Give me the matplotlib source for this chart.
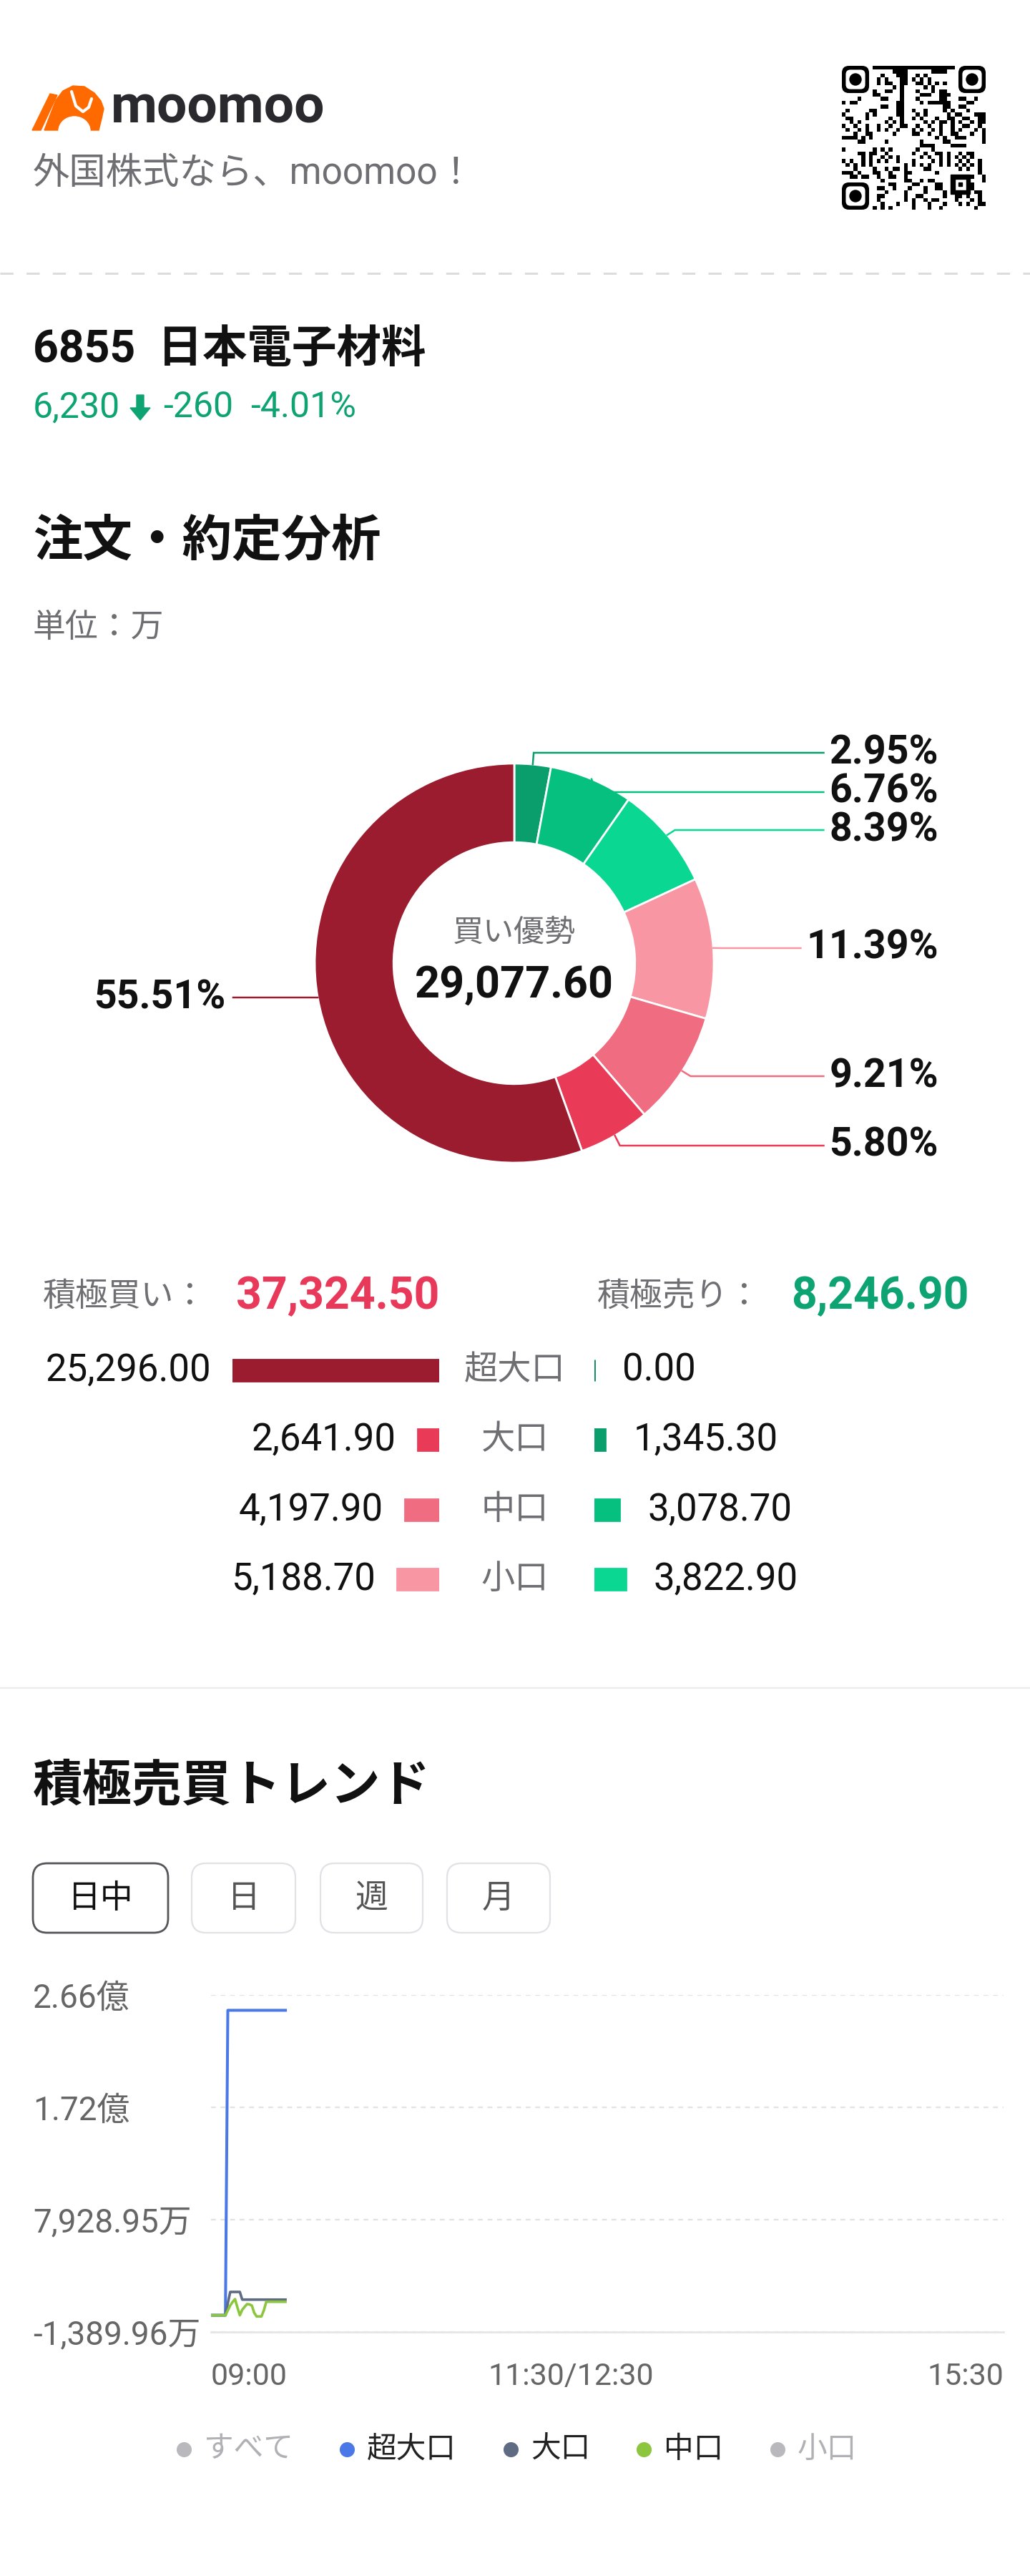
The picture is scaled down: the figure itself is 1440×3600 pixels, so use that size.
import numpy as np
import matplotlib
matplotlib.use("Agg")
import matplotlib.pyplot as plt
from matplotlib.patches import FancyBboxPatch, Polygon, Ellipse, Circle
from matplotlib.transforms import offset_copy

plt.rcParams['font.family'] = ['Roboto', 'Noto Sans CJK JP', 'DejaVu Sans']

# ---- data ----
ticker, stock_name = "6855", "日本電子材料"
price, change, change_pct = "6,230", "-260", "-4.01%"
sizes = ["超大口", "大口", "中口", "小口"]
buy_values = [25296.00, 2641.90, 4197.90, 5188.70]
sell_values = [0.00, 1345.30, 3078.70, 3822.90]
buy_total = 37324.50
sell_total = 8246.90
net_value = 29077.60

minutes = [0, 1, 2, 3, 4, 5, 6, 7, 8, 9, 10, 11, 12, 13, 14, 15,
           16, 17, 18, 19, 20, 21, 22, 23, 24, 25, 26, 27, 28, 29, 30, 31]
trend_super = [0, 0, 0, 0, 0, 0, 0, 25296, 25296, 25296, 25296, 25296, 25296, 25296, 25296, 25296,
               25296, 25296, 25296, 25296, 25296, 25296, 25296, 25296, 25296, 25296, 25296, 25296, 25296, 25296, 25296, 25296]
trend_large = [0, 0, 0, 0, 0, 0, 0, 1000, 1934, 1934, 1934, 1934, 1934, 1296.6, 1296.6, 1296.6,
               1296.6, 1296.6, 1296.6, 1296.6, 1296.6, 1296.6, 1296.6, 1296.6, 1296.6, 1296.6, 1296.6, 1296.6, 1296.6, 1296.6, 1296.6, 1296.6]
trend_medium = [0, 0, 0, 0, 0, 0, 0, 400, 806, 1100, 1340, 650, 0, 450, 700, 925,
                900, 806, 200, -100, -100, -100, 400, 1119.2, 1119.2, 1119.2, 1119.2, 1119.2, 1119.2, 1119.2, 1119.2, 1119.2]
y_ticks = [-1389.96, 7928.95, 17247.86, 26566.77]
y_ticklabels = ["-1,389.96万", "7,928.95万", "1.72億", "2.66億"]
x_ticks = [0, 150, 330]
x_ticklabels = ["09:00", "11:30/12:30", "15:30"]
legend_names = ["すべて", "超大口", "大口", "中口", "小口"]
legend_active = [False, True, True, True, False]

buy_colors = ['#9b1c2f', '#e93b57', '#f06c80', '#f896a3']
sell_colors = ['#08875d', '#0a9e6c', '#06c080', '#0ad892']
RED, GREEN, GRAY, BLACK = '#e8395a', '#0ea372', '#6e6e73', '#111111'

H = 3600
fig = plt.figure(figsize=(14.4, 36), dpi=100)
fig.patch.set_facecolor('white')
ax = fig.add_axes([0, 0, 1, 1])
ax.set_xlim(0, 1440)
ax.set_ylim(H, 0)
ax.axis('off')


def txt(x, y, s, size, color=BLACK, weight='normal', ha='left', va='center'):
    return ax.text(x, y, s, fontsize=size, color=color, fontweight=weight, ha=ha, va=va)


# ---- header ----
orange = '#ff6a00'
ax.add_patch(Polygon([(45, 182), (57, 182), (80, 133), (70, 131)], closed=True, color=orange))
ax.add_patch(Polygon([(62, 182), (78, 140), (88, 127), (102, 120), (118, 121), (132, 130),
                      (141, 141), (145, 152), (142, 166), (138, 182)], closed=True, color=orange))
ax.add_patch(Ellipse((104, 183), 44, 40, color='white'))
ax.plot([100, 106, 116, 124, 128], [128, 148, 156, 150, 138], color='white', lw=3, solid_capstyle='round')
txt(155, 172, "moomoo", 54, color='#2a2a2e', weight='bold', va='baseline')
txt(46, 243, "外国株式なら、moomoo！", 37, color=GRAY)

# qr-like badge
qax = fig.add_axes([1177 / 1440, 1 - 293 / H, 201 / 1440, 201 / H])
n = 37
ii, jj = np.mgrid[0:n, 0:n]
grid = (((ii * 7 + jj * 11 + (ii * jj) % 5 + (ii ^ jj)) % 3) == 0).astype(float)
for r0, c0 in [(0, 0), (0, n - 8), (n - 8, 0)]:
    grid[r0:r0 + 8, c0:c0 + 8] = 0
grid[27:33, 27:33] = 0
qax.imshow(grid, cmap='Greys', vmin=0, vmax=1, interpolation='nearest', extent=(0, n, n, 0))
for r0, c0 in [(0, 0), (0, n - 7), (n - 7, 0)]:
    qax.add_patch(FancyBboxPatch((c0, r0), 7, 7, boxstyle='round,pad=0,rounding_size=1.8', fc='black', ec='none'))
    qax.add_patch(FancyBboxPatch((c0 + 1, r0 + 1), 5, 5, boxstyle='round,pad=0,rounding_size=1.2', fc='white', ec='none'))
    qax.add_patch(Circle((c0 + 3.5, r0 + 3.5), 1.6, fc='black'))
qax.add_patch(FancyBboxPatch((28, 28), 5, 5, boxstyle='square,pad=0', fc='black'))
qax.add_patch(FancyBboxPatch((29, 29), 3, 3, boxstyle='square,pad=0', fc='white'))
qax.add_patch(FancyBboxPatch((30, 30), 1, 1, boxstyle='square,pad=0', fc='black'))
qax.set_xlim(0, n)
qax.set_ylim(n, 0)
qax.axis('off')

ax.plot([0, 1440], [382, 382], color='#dcdcdc', lw=2.2, dashes=(6, 6))

# ---- stock line ----
txt(46, 489, ticker + "  " + stock_name, 45, weight='bold')
txt(46, 569, price, 36, color=GREEN)
ax.add_patch(Polygon([(191, 552), (201, 552), (201, 570), (210, 570), (196, 587), (182, 570), (191, 570)],
                     closed=True, color=GREEN))
txt(228, 569, change, 36, color=GREEN)
txt(350, 569, change_pct, 36, color=GREEN)

txt(46, 758, "注文・約定分析", 50, weight='bold')
txt(46, 877, "単位：万", 33, color=GRAY)

# ---- donut ----
pax = fig.add_axes([0, 0, 1, 1])
pax.patch.set_visible(False)
pie_values = sell_values + buy_values[::-1]
pie_colors = sell_colors + buy_colors[::-1]
cx, cy, R = 719, H - 1346, 279
wedges, _ = pax.pie(pie_values, colors=pie_colors, startangle=90, counterclock=False,
                    radius=R, center=(cx, cy),
                    wedgeprops=dict(width=R * 0.395, edgecolor='white', linewidth=2))
pax.set_xlim(0, 1440)
pax.set_ylim(0, H)
pax.set_aspect('auto')
pax.axis('off')

total = sum(pie_values)
label_y = [None, 1052, 1107, 1160, 1325, 1504, 1601, 1394]
labels = []
for k, (w, v) in enumerate(zip(wedges, pie_values)):
    if v <= 0:
        continue
    pct = f"{v / total * 100:.2f}%"
    right = k < 7
    tx = 1312 if right else 315
    t = pax.text(tx, H - label_y[k], pct, fontsize=40, fontweight='bold', color=BLACK, ha='right', va='center')
    labels.append((k, w, t, right))

fig.canvas.draw()
inv = pax.transData.inverted()
for k, w, t, right in labels:
    mid = np.deg2rad((w.theta1 + w.theta2) / 2)
    x0, y0 = cx + R * np.cos(mid), cy + R * np.sin(mid)
    ly = H - label_y[k]
    x1 = x0 + 14 * np.cos(mid)
    if right:
        bb = t.get_window_extent()
        xe = inv.transform((bb.x0, 0))[0] - 8
    else:
        xe = 326
    pax.plot([x0, x1, xe], [y0, ly, ly], color=pie_colors[k], lw=1.8, solid_joinstyle='miter')

pax.text(cx, H - 1304, "買い優勢", fontsize=31, color=GRAY, ha='center', va='center')
pax.text(cx, H - 1377, f"{net_value:,.2f}", fontsize=44, fontweight='bold', color=BLACK, ha='center', va='center')

# ---- buy / sell breakdown ----
txt(60, 1812, "積極買い：", 33, color=GRAY)
txt(330, 1812, f"{buy_total:,.2f}", 45, color=RED, weight='bold')
txt(835, 1812, "積極売り：", 33, color=GRAY)
txt(1106, 1812, f"{sell_total:,.2f}", 45, color=GREEN, weight='bold')

top, step = 1866, 97.5
vmax = max(buy_values)
bx = fig.add_axes([325 / 1440, 1 - (top + 4 * step) / H, 289 / 1440, 4 * step / H])
sx = fig.add_axes([831 / 1440, 1 - (top + 4 * step) / H, 289 / 1440, 4 * step / H])
rows = list(range(len(sizes)))
bx.barh(rows, buy_values, height=0.31, color=buy_colors, edgecolor=buy_colors, lw=2)
sx.barh(rows, sell_values, height=0.31, color=sell_colors, edgecolor=sell_colors, lw=2)
bx.set_xlim(vmax, 0)
sx.set_xlim(0, vmax)
for a in (bx, sx):
    a.set_ylim(len(sizes) - 0.5, -0.5)
    a.axis('off')
for i in rows:
    bx.text(buy_values[i], i, f"{buy_values[i]:,.2f}", fontsize=38, color=BLACK, ha='right', va='center',
            transform=offset_copy(bx.transData, fig=fig, x=-30, units='dots'))
    sx.text(sell_values[i], i, f"{sell_values[i]:,.2f}", fontsize=38, color=BLACK, ha='left', va='center',
            transform=offset_copy(sx.transData, fig=fig, x=39, units='dots'))
    txt(720, top + step * (i + 0.5), sizes[i], 34, color=GRAY, ha='center')

ax.plot([0, 1440], [2359, 2359], color='#ececec', lw=1.6)

# ---- trend ----
txt(46, 2498, "積極売買トレンド", 50, weight='bold')
buttons = [("日中", 46, 235, True), ("日", 268, 413, False), ("週", 448, 591, False), ("月", 625, 769, False)]
for label, x0, x1, active in buttons:
    ax.add_patch(FancyBboxPatch((x0, 2604), x1 - x0, 97, boxstyle='round,pad=0,rounding_size=20',
                                fc='white', ec='#55555a' if active else '#e1e1e6', lw=2 if active else 1.6))
    txt((x0 + x1) / 2, 2653, label, 33, color=BLACK if active else '#555555', ha='center')

tax = fig.add_axes([295 / 1440, 1 - 3259 / H, 1108 / 1440, 471 / H])
tax.plot(minutes, trend_super, color='#4a78e6', lw=2.9, zorder=3)
tax.plot(minutes, trend_large, color='#5e6b82', lw=2.6, zorder=4)
tax.plot(minutes, trend_medium, color='#8cc63f', lw=2.6, zorder=5)
tax.set_xlim(x_ticks[0], x_ticks[-1])
tax.set_ylim(y_ticks[0], y_ticks[-1])
tax.set_yticks(y_ticks, y_ticklabels)
tax.set_xticks(x_ticks, x_ticklabels)
tax.tick_params(axis='y', length=0, pad=179.3, labelsize=33, labelcolor='#666666')
tax.tick_params(axis='x', length=0, pad=30, labelsize=31, labelcolor='#666666')
for lbl in tax.get_yticklabels():
    lbl.set_ha('left')
for lbl, ha in zip(tax.get_xticklabels(), ['left', 'center', 'right']):
    lbl.set_ha(ha)
tax.grid(axis='y', color='#e2e2e2', lw=1.6, linestyle=(0, (3, 3)))
for s in ['top', 'right', 'left']:
    tax.spines[s].set_visible(False)
tax.spines['bottom'].set_color('#e6e6e6')
tax.spines['bottom'].set_linewidth(2)
tax.set_facecolor('none')

dot_colors = ['#b9b9bd', '#4a78e6', '#5e6b82', '#8cc63f', '#b9b9bd']
dot_x = [257, 485, 714, 900, 1087]
for name, active, c, x in zip(legend_names, legend_active, dot_colors, dot_x):
    ax.scatter([x], [3423], s=200, color=c, zorder=5)
    txt(x + 28, 3423, name, 30, color='#222222' if active else '#b0b0b5')

fig.savefig("out.png", dpi=100, facecolor='white')
